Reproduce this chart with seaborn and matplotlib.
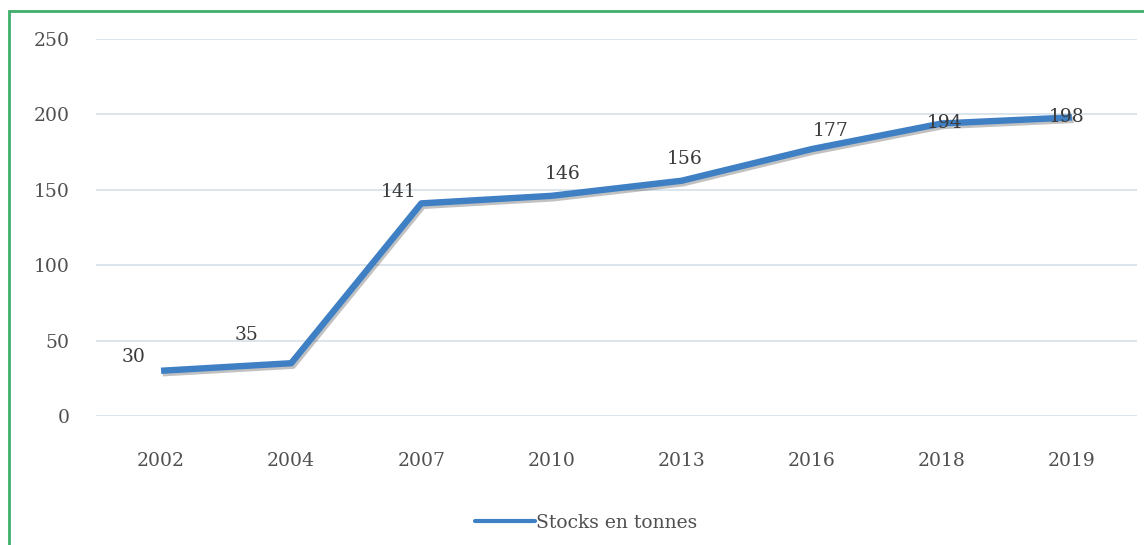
import numpy as np
import pandas as pd
import seaborn as sns
import matplotlib.pyplot as plt
import matplotlib.patheffects as pe
from matplotlib.patches import Rectangle
from matplotlib.lines import Line2D

# data
years = ["2002", "2004", "2007", "2010", "2013", "2016", "2018", "2019"]
stocks = [30, 35, 141, 146, 156, 177, 194, 198]
series_name = "Stocks en tonnes"

# label offsets in points (style only, not data)
label_dx = [-20, -32, -16, 8, 2, 14, 2, -4]
label_dy = [10, 20, 8, 16, 16, 13, 0, 0]

df = pd.DataFrame({"year": years, "stocks": stocks})

sns.set_theme(style="white")
plt.rcParams["font.family"] = ["DejaVu Serif"]

fig = plt.figure(figsize=(11.44, 5.45), dpi=100)
ax = fig.add_axes([96 / 1144, 1 - 416 / 545, (1137 - 96) / 1144, (416 - 39) / 545])

line_col = "#3f7fc4"
sns.lineplot(
    data=df, x="year", y="stocks", ax=ax,
    color=line_col, linewidth=4.6, sort=False, legend=False,
    solid_capstyle="butt", solid_joinstyle="round",
)
ax.lines[0].set_path_effects([
    pe.SimpleLineShadow(offset=(1.2, -1.8), shadow_color="#333333", alpha=0.3),
    pe.Normal(),
])

# data labels
for i, v in enumerate(stocks):
    ax.annotate(str(v), (i, v), xytext=(label_dx[i], label_dy[i]),
                textcoords="offset points", ha="center", va="center",
                fontsize=13.5, color="#3a3a3a")

ax.set_xlim(-0.5, len(years) - 0.5)
ax.set_ylim(0, 250)
ax.set_yticks(np.arange(0, 251, 50))
ax.yaxis.grid(True, color="#dde5ec", linewidth=1.4)
ax.xaxis.grid(False)
ax.set_axisbelow(True)
for s in ax.spines.values():
    s.set_visible(False)
ax.set_xlabel("")
ax.set_ylabel("")
ax.tick_params(axis="both", length=0, labelsize=13.5, labelcolor="#505050")
ax.tick_params(axis="x", pad=26)
ax.tick_params(axis="y", pad=19)

# legend at the bottom
handle = Line2D([], [], color=line_col, linewidth=3)
fig.legend([handle], [series_name], loc="center", bbox_to_anchor=(586 / 1144, 1 - 523 / 545),
           frameon=False, fontsize=13.5, handlelength=3.2, handletextpad=0.05,
           labelcolor="#505050")

# green frame
fig.patches.append(Rectangle((9 / 1144, -0.05), 1.2, 1 - 11 / 545 + 0.05,
                             transform=fig.transFigure, fill=False,
                             edgecolor="#3fae6a", linewidth=2))

fig.savefig("out.png", dpi=100)
